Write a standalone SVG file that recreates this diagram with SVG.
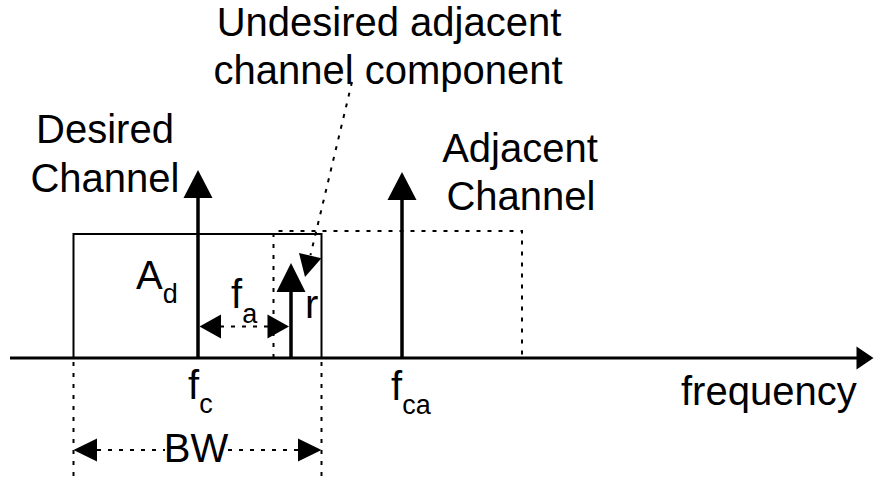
<svg xmlns="http://www.w3.org/2000/svg" width="874" height="483" viewBox="0 0 874 483">
  <style>
    .lbl { font-family: "Liberation Sans", Arial, sans-serif; font-size: 40px; fill: #000; }
    .sub { font-size: 27px; }
    .solid { fill: none; stroke: #000; stroke-width: 2; }
    .carrier { fill: none; stroke: #000; stroke-width: 3.5; }
    .dot { fill: none; stroke: #000; stroke-width: 2; stroke-dasharray: 4 7; }
    .head { fill: #000; stroke: none; }
  </style>

  <!-- desired channel passband -->
  <g id="desired-band">
    <rect class="solid" x="73.5" y="234" width="248" height="124"/>
  </g>

  <!-- adjacent channel passband (dotted) -->
  <g id="adjacent-band">
    <polyline class="dot" points="273.5,358 273.5,231 522,231 522,358"/>
  </g>

  <!-- frequency axis -->
  <g id="axis">
    <line x1="10" y1="358" x2="858" y2="358" stroke="#000" stroke-width="3"/>
    <polygon class="head" points="873.5,358 856.5,346.5 856.5,369.5"/>
    <text class="lbl" x="681" y="405">frequency</text>
  </g>

  <!-- desired carrier -->
  <g id="desired-carrier">
    <line class="carrier" x1="198" y1="358" x2="198" y2="196"/>
    <polygon class="head" points="198,170 183.5,198 212.5,198"/>
    <text class="lbl" x="105" y="143" text-anchor="middle" font-size="39">Desired</text>
    <text class="lbl" x="105" y="192" text-anchor="middle" font-size="39">Channel</text>
    <text class="lbl" x="136" y="289">A<tspan class="sub" dy="14">d</tspan></text>
    <text class="lbl" x="188" y="399">f<tspan class="sub" dy="14">c</tspan></text>
  </g>

  <!-- adjacent carrier -->
  <g id="adjacent-carrier">
    <line class="carrier" x1="402" y1="358" x2="402" y2="198"/>
    <polygon class="head" points="402,172 387.5,200 416.5,200"/>
    <text class="lbl" x="520" y="162" text-anchor="middle">Adjacent</text>
    <text class="lbl" x="521" y="210" text-anchor="middle">Channel</text>
    <text class="lbl" x="391" y="400">f<tspan class="sub" dy="14">ca</tspan></text>
  </g>

  <!-- undesired adjacent channel component -->
  <g id="undesired-component">
    <line class="carrier" x1="291" y1="358" x2="291" y2="290"/>
    <polygon class="head" points="291,263 276.5,292 305.5,292"/>
    <text class="lbl" x="305" y="318">r</text>
    <text class="lbl" x="389" y="36" text-anchor="middle">Undesired adjacent</text>
    <text class="lbl" x="388" y="84" text-anchor="middle">channel component</text>
  </g>

  <!-- connectors: dimensions and leader -->
  <g id="connectors">
    <!-- fa offset -->
    <line class="dot" x1="220" y1="326.5" x2="268" y2="326.5"/>
    <polygon class="head" points="199.5,326.5 221,314.5 221,338.5"/>
    <polygon class="head" points="289,326.5 267.5,314.5 267.5,338.5"/>
    <text class="lbl" x="231" y="308">f<tspan class="sub" dy="15">a</tspan></text>

    <!-- bandwidth extension lines -->
    <line class="dot" x1="73.5" y1="362" x2="73.5" y2="483"/>
    <line class="dot" x1="321.5" y1="362" x2="321.5" y2="483"/>

    <!-- bandwidth dimension -->
    <line class="dot" x1="97" y1="450" x2="165" y2="450"/>
    <line class="dot" x1="228" y1="450" x2="298" y2="450"/>
    <polygon class="head" points="73.5,450 97,438.5 97,461.5"/>
    <polygon class="head" points="321.5,450 298,438.5 298,461.5"/>
    <text class="lbl" x="196" y="462" text-anchor="middle">BW</text>

    <!-- leader to the undesired component -->
    <line class="dot" x1="352" y1="82" x2="310.5" y2="255"/>
    <polygon class="head" points="305,277 321.4,258.3 299,252.9"/>
  </g>
</svg>
